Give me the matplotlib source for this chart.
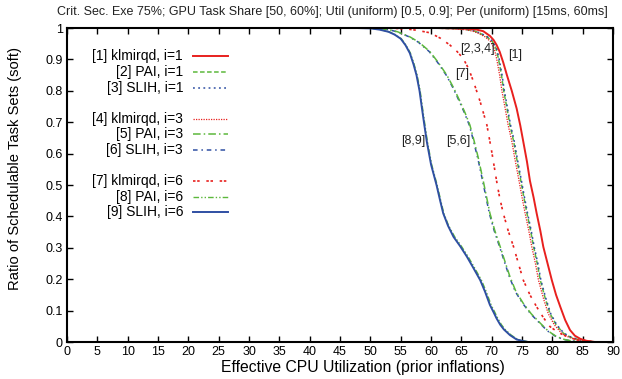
import matplotlib
matplotlib.use("Agg")
import matplotlib.pyplot as plt
import numpy as np

plt.rcParams["font.family"] = ["Liberation Sans", "DejaVu Sans"]

# curve data
x1 = [61, 64, 66, 67.5, 68.6, 69.7, 70.3, 70.8, 71.3, 71.9, 72.5, 73.3, 74.1, 74.7, 75.2, 75.8, 76.3,
      76.9, 77.4, 78.0, 78.5, 79.2, 79.9, 80.6, 81.3, 82.1, 82.9, 83.7, 84.6, 85.6, 87]
y1 = [1, 0.999, 0.998, 0.995, 0.99, 0.975, 0.962, 0.946, 0.925, 0.89, 0.850, 0.80, 0.744, 0.69, 0.638, 0.575, 0.513,
      0.46, 0.41, 0.355, 0.303, 0.25, 0.197, 0.15, 0.112, 0.07, 0.038, 0.02, 0.01, 0.004, 0]

y234 = [1, 0.999, 0.998, 0.995, 0.99, 0.983, 0.972, 0.957, 0.935, 0.903, 0.85, 0.797, 0.745, 0.691, 0.64, 0.585,
        0.513, 0.46, 0.41, 0.355, 0.303, 0.25, 0.197, 0.14, 0.091, 0.055, 0.028, 0.015, 0.006, 0]
x2 = [60, 62, 64, 65.9, 67.2, 68.1, 69.2, 70.1, 70.7, 71.1, 71.6, 72.0, 72.5, 73.0, 73.6, 74.1,
      74.8, 75.3, 75.8, 76.4, 76.9, 77.5, 78.0, 78.8, 79.6, 80.6, 81.8, 83.0, 84.6, 87]
x3 = [60, 62.1, 64.1, 66.0, 67.3, 68.2, 69.3, 70.2, 70.8, 71.2, 71.7, 72.1, 72.6, 73.1, 73.7, 74.2,
      74.9, 75.4, 75.9, 76.5, 77.0, 77.6, 78.1, 78.9, 79.7, 80.7, 81.9, 83.1, 84.7, 87]
x4 = [59.5, 61.7, 63.7, 65.6, 66.9, 67.8, 68.9, 69.8, 70.4, 70.8, 71.3, 71.7, 72.2, 72.7, 73.3, 73.8,
      74.5, 75.0, 75.5, 76.1, 76.6, 77.2, 77.7, 78.5, 79.3, 80.3, 81.5, 82.7, 84.3, 87]

y56 = [1, 0.999, 0.995, 0.988, 0.972, 0.955, 0.925, 0.89, 0.850, 0.81, 0.765, 0.73, 0.691, 0.64, 0.585, 0.513,
       0.41, 0.355, 0.303, 0.255, 0.208, 0.16, 0.123, 0.09, 0.060, 0.035, 0.017, 0.008, 0.004, 0]
x5 = [49, 51, 53, 54.5, 56.5, 58, 59.8, 61.2, 62.6, 63.7, 64.8, 65.6, 66.4, 67.1, 67.8, 68.6,
      69.7, 70.5, 71.4, 72.2, 73.0, 74.0, 75.2, 76.5, 78.0, 79.3, 80.7, 82, 83, 85]
x6 = [49, 51, 53, 54.4, 56.4, 57.9, 59.7, 61.1, 62.5, 63.6, 64.7, 65.5, 66.3, 67.0, 67.7, 68.5,
      69.6, 70.4, 71.3, 72.1, 72.9, 73.9, 75.1, 76.4, 77.9, 79.2, 80.6, 81.9, 82.9, 85]

x7 = [52, 54, 56, 57.6, 59.8, 61.5, 63.1, 64.3, 65.3, 66.2, 67.0, 68.1, 69.2, 70.0, 70.8, 71.3, 71.9,
      72.7, 73.6, 74.4, 75.2, 76.3, 77.4, 78.5, 79.6, 81, 82.4, 84, 85.5, 87]
y7 = [1, 0.999, 0.997, 0.993, 0.985, 0.968, 0.946, 0.925, 0.903, 0.87, 0.829, 0.765, 0.691, 0.606, 0.513, 0.46, 0.41,
      0.355, 0.303, 0.25, 0.197, 0.15, 0.112, 0.078, 0.049, 0.03, 0.017, 0.007, 0.002, 0]

y89 = [1, 0.999, 0.995, 0.988, 0.979, 0.966, 0.945, 0.92, 0.885, 0.850, 0.80, 0.744, 0.69, 0.638, 0.565, 0.50,
       0.45, 0.41, 0.37, 0.335, 0.305, 0.272, 0.235, 0.197, 0.16, 0.118, 0.095, 0.075, 0.055, 0.04, 0.022,
       0.008, 0.003, 0]
x8 = [48, 50.1, 51.6, 53.1, 54.1, 55.1, 55.9, 56.6, 57.2, 57.7, 58.2, 58.6, 59.0, 59.4, 60.1, 61.0,
      61.6, 62.1, 62.9, 63.9, 65.0, 66.1, 67.2, 68.3, 69.1, 69.9, 70.5, 71.0, 71.6, 72.2, 73.2,
      74.3, 75.4, 76.2]
x9 = [48, 50, 51.5, 53, 54, 55, 55.8, 56.5, 57.1, 57.6, 58.1, 58.5, 58.9, 59.3, 60.0, 60.9,
      61.5, 62.0, 62.8, 63.7, 64.8, 65.9, 67.0, 68.1, 68.9, 69.7, 70.3, 70.8, 71.4, 72.0, 73.0,
      74.1, 75.2, 76]

labels = ["[1] klmirqd, i=1", "[2] PAI, i=1", "[3] SLIH, i=1",
          "[4] klmirqd, i=3", "[5] PAI, i=3", "[6] SLIH, i=3",
          "[7] klmirqd, i=6", "[8] PAI, i=6", "[9] SLIH, i=6"]

annot_text = ["[2,3,4]", "[1]", "[7]", "[5,6]", "[8,9]"]
annot_x = [67.7, 73.8, 65.1, 64.4, 57.0]
annot_y = [0.933, 0.914, 0.853, 0.640, 0.640]

red = "#e8201e"
green = "#5cb83c"
blue = "#2f4fa3"

styles = [
    dict(color=red, lw=1.4, ls="-"),
    dict(color=green, lw=1.1, ls=(0, (3, 1.6))),
    dict(color=blue, lw=1.1, ls=(0, (1.2, 2.2))),
    dict(color=red, lw=0.9, ls=(0, (1, 1))),
    dict(color=green, lw=1.1, ls=(0, (5, 2, 1, 2))),
    dict(color=blue, lw=1.1, ls=(0, (3, 2.5, 1, 2.5))),
    dict(color=red, lw=1.2, ls=(0, (1.5, 1, 1.5, 4))),
    dict(color=green, lw=1.0, ls=(0, (4, 1.5, 1, 1.5, 1, 1.5))),
    dict(color=blue, lw=1.4, ls="-"),
]

xs = [x1, x2, x3, x4, x5, x6, x7, x8, x9]
ys = [y1, y234, y234, y234, y56, y56, y7, y89, y89]

fig = plt.figure(figsize=(6.22, 3.79), dpi=100)
ax = fig.add_axes([0.1077, 0.0976, 0.878, 0.8284])

# draw back to front so the solid lines sit on top
for i in [7, 5, 4, 1, 2, 3, 6, 8, 0]:
    ax.plot(xs[i], ys[i], **styles[i])

for t, xx, yy in zip(annot_text, annot_x, annot_y):
    ax.text(xx, yy, t, ha="center", va="center", fontsize=9, color="#222222")

# legend, gnuplot style: right-aligned text, sample on the right
rows = [0.912, 0.861, 0.810, 0.710, 0.662, 0.613, 0.513, 0.463, 0.413]
for lab, st, ry in zip(labels, styles, rows):
    ax.text(0.2125, ry, lab, transform=ax.transAxes, ha="right", va="center", fontsize=10)
    ax.plot([0.2308, 0.2949], [ry, ry], transform=ax.transAxes, **st)

ax.set_xlim(0, 90)
ax.set_ylim(0, 1)
ax.set_xticks(np.arange(0, 91, 5))
ax.set_yticks(np.arange(0, 1.01, 0.1))
ax.set_yticklabels(["0", "0.1", "0.2", "0.3", "0.4", "0.5", "0.6", "0.7", "0.8", "0.9", "1"])
ax.tick_params(direction="in", top=True, right=True, length=4, width=1, labelsize=9, pad=3)
for sp in ax.spines.values():
    sp.set_linewidth(1.5)

ax.set_xlabel("Effective CPU Utilization (prior inflations)", fontsize=11.3)
ax.xaxis.set_label_coords(0.542, -0.058)
ax.set_ylabel("Ratio of Schedulable Task Sets (soft)", fontsize=10.6)
ax.yaxis.set_label_coords(-0.083, 0.554)
fig.text(0.534, 0.968,
         "Crit. Sec. Exe 75%; GPU Task Share [50, 60%]; Util (uniform) [0.5, 0.9]; Per (uniform) [15ms, 60ms]",
         ha="center", va="center", fontsize=9, color="#222222")

fig.savefig("out.png", dpi=100)
